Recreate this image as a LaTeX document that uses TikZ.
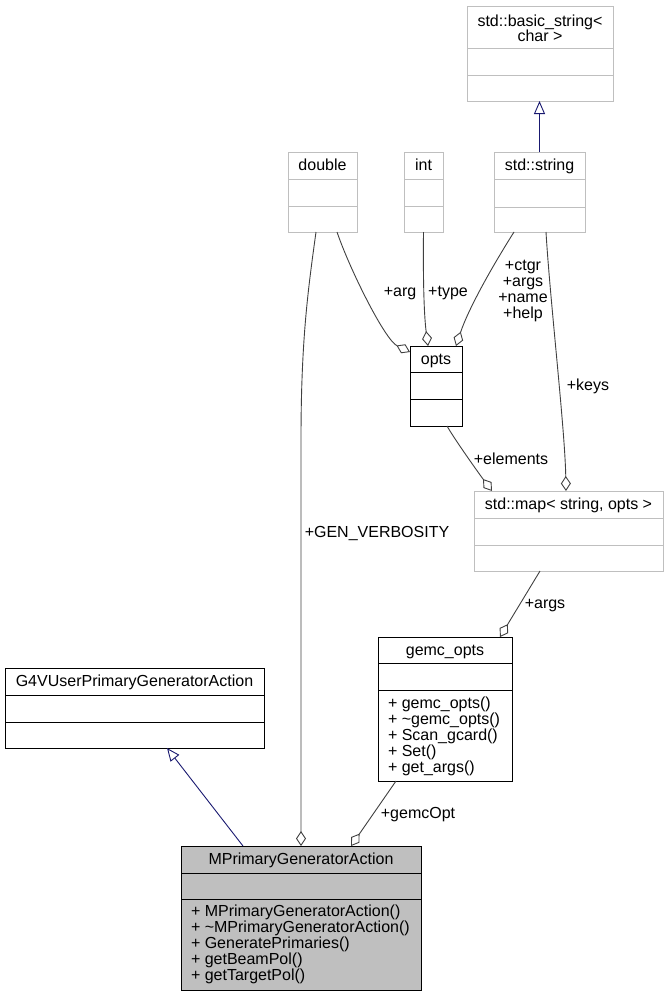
\documentclass[tikz,border=0pt]{standalone}
\usepackage{fontspec}
\setmainfont{Liberation Sans}
\usetikzlibrary{arrows.meta}
\definecolor{greyb}{HTML}{BFBFBF}
\definecolor{greyd}{HTML}{404040}
\definecolor{mblue}{HTML}{191970}
\tikzset{
  ext/.style={draw=greyb, line width=1pt, inner sep=0pt, outer sep=0pt},
  cls/.style={draw=black, line width=1pt, inner sep=0pt, outer sep=0pt},
  cur/.style={cls, fill=greyb},
  txt/.style={font=\fontsize{16}{16}\selectfont, inner sep=0pt, outer sep=0pt},
  ttl/.style={txt, text height=12pt, text depth=2pt, anchor=center},
  mem/.style={txt, align=left, anchor=north west},
  lbl/.style={txt, align=center},
  aggr/.style={draw=greyd, line width=0.9pt, arrows={Diamond[open,length=15pt,width=10pt]-}},
  inh/.style={draw=mblue, line width=0.9pt, arrows={Triangle[open,length=13pt,width=11pt]-}},
}
\newcommand{\classbox}[9]{%
  \node[#2, anchor=north west, minimum width={#5-#3}, minimum height={#6-#4}] (#1) at (#3,#4) {};
  \draw[#2, fill=none] (#3,#7) -- (#5,#7) (#3,#8) -- (#5,#8);
  \node[ttl] (#1t) at ({(#3+#5)/2},{(#4+#7)/2}) {#9};
}
\begin{document}
\begin{tikzpicture}[x=1pt,y=-1pt]
\useasboundingbox (0,0) rectangle (668,996);
% classes
\classbox{basic}{ext}{467}{6}{613}{101}{48}{75}{}
\node[lbl, anchor=north, font=\fontsize{16}{15}\selectfont] (basicttl) at (540,14.5) {std::basic\_string<\\char >};
\classbox{string}{ext}{494}{152}{585}{232}{179}{207}{std::string}
\classbox{dbl}{ext}{288}{152}{357}{232}{179}{206}{double}
\classbox{intbox}{ext}{404}{152}{443}{232}{179}{206}{int}
\classbox{opts}{cls}{410}{346}{462}{426}{372}{399}{opts}
\classbox{map}{ext}{474}{491}{663}{571}{518}{545}{std::map< string, opts >}
\classbox{gemc}{cls}{378}{637}{512}{781}{663}{690}{gemc\_opts}
\classbox{g4}{cls}{5}{668}{264}{748}{695}{722}{G4VUserPrimaryGeneratorAction}
\classbox{mp}{cur}{181}{846}{421}{990}{873}{899}{MPrimaryGeneratorAction}
\node[mem] (gemcm) at (388,697.3) {+ gemc\_opts()\\+ \textasciitilde gemc\_opts()\\+ Scan\_gcard()\\+ Set()\\+ get\_args()};
\node[mem] (mpm) at (191,905.3) {+ MPrimaryGeneratorAction()\\+ \textasciitilde MPrimaryGeneratorAction()\\+ GeneratePrimaries()\\+ getBeamPol()\\+ getTargetPol()};
% inheritance
\draw[inh] (basic.south -| string.north) -- (string.north);
\draw[inh] ([xshift=162pt]g4.south west) -- ([xshift=62pt]mp.north west);
% aggregation
\draw[aggr] (mp.north) -- (301,440) .. controls (301,340) and (308,290) .. ([xshift=28pt]dbl.south west);
\draw[aggr] ([yshift=-6pt]opts.north west) .. controls (385,340) and (350,270) .. ([xshift=49pt]dbl.south west);
\draw[aggr] ([xshift=18pt]opts.north west) .. controls (424,315) and (423,280) .. (intbox.south);
\draw[aggr] ([xshift=46pt]opts.north west) .. controls (468,310) and (490,270) .. ([xshift=20pt]string.south west);
\draw[aggr] ([xshift=92pt]map.north west) .. controls (565,430) and (550,300) .. ([xshift=52pt]string.south west);
\draw[aggr] ([xshift=18pt]map.north west) .. controls (480,475) and (455,440) .. ([xshift=37pt]opts.south west);
\draw[aggr] ([xshift=122pt]gemc.north west) -- ([xshift=66pt]map.south west);
\draw[aggr] ([xshift=170pt]mp.north west) -- ([xshift=18pt]gemc.south west);
% labels
\node[lbl, anchor=base] (l1) at (400,296) {+arg};
\node[lbl, anchor=base] (l2) at (448,296) {+type};
\node[lbl, anchor=north] (l3) at (523,260.5) {+ctgr\\+args\\+name\\+help};
\node[lbl, anchor=base] (l4) at (588,390) {+keys};
\node[lbl, anchor=base] (l5) at (511,464) {+elements};
\node[lbl, anchor=base] (l6) at (377,537) {+GEN\_VERBOSITY};
\node[lbl, anchor=base] (l7) at (545,608) {+args};
\node[lbl, anchor=base] (l8) at (418,818) {+gemcOpt};
\end{tikzpicture}
\end{document}
